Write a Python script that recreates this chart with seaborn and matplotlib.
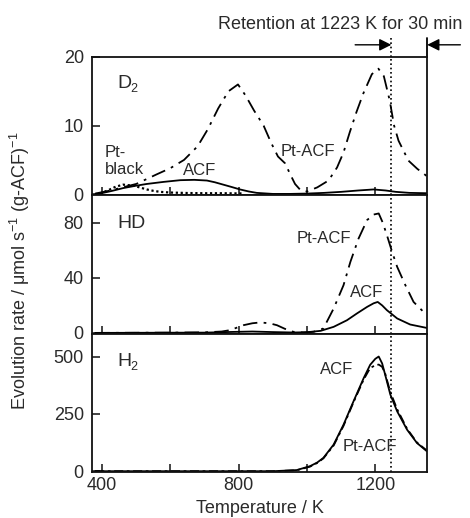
import numpy as np
import pandas as pd
import matplotlib
matplotlib.use("Agg")
import matplotlib.pyplot as plt
import matplotlib.transforms as mtransforms
import seaborn as sns

# ---------------- data ----------------
# D2 panel
d2_ptacf_T = [380, 420, 460, 500, 530, 560, 600, 640, 680, 710, 740, 770, 798, 820, 845, 873, 895,
              915, 936, 950, 965, 981, 1000, 1030, 1063, 1088, 1107, 1125, 1145, 1165, 1190, 1209,
              1225, 1242, 1255, 1268, 1297, 1323, 1352]
d2_ptacf_v = [0.1, 0.5, 1.0, 1.5, 2.2, 2.9, 3.8, 5.0, 7.0, 9.5, 12.5, 15.0, 16.0, 14.4, 12.2, 10.0, 7.5,
              5.5, 4.5, 3.0, 1.5, 0.6, 0.4, 1.0, 2.0, 3.9, 6.1, 9.0, 12.0, 14.7, 17.5, 18.3,
              17.2, 13.7, 10.0, 7.8, 4.9, 3.7, 2.6]
d2_acf_T = [380, 394, 430, 462, 500, 531, 580, 629, 670, 707, 730, 755, 780, 804, 830, 853, 900,
            950, 1000, 1050, 1100, 1150, 1195, 1230, 1260, 1300, 1352]
d2_acf_v = [0.0, 0.1, 0.5, 0.9, 1.25, 1.5, 1.8, 2.05, 2.1, 2.0, 1.75, 1.4, 1.05, 0.7, 0.4, 0.2, 0.05,
            0.05, 0.1, 0.2, 0.35, 0.55, 0.7, 0.55, 0.35, 0.2, 0.15]
d2_ptblack_T = [380, 400, 423, 440, 462, 492, 510, 531, 550, 570, 600, 650, 700, 750, 812]
d2_ptblack_v = [0.0, 0.2, 0.7, 1.1, 1.4, 1.25, 1.0, 0.7, 0.5, 0.35, 0.25, 0.18, 0.15, 0.15, 0.12]

# HD panel
hd_ptacf_T = [380, 600, 700, 750, 775, 814, 840, 863, 890, 912, 935, 960, 990, 1020, 1048, 1078,
              1107, 1127, 1151, 1176, 1195, 1210, 1222, 1234, 1249, 1264, 1288, 1312, 1341, 1352]
hd_ptacf_v = [0.0, 0.2, 0.4, 1.0, 2.0, 5.6, 7.0, 7.6, 7.0, 5.6, 3.0, 0.8, 0.3, 0.8, 3.2, 17.7,
              34.7, 51.6, 68.6, 82.0, 86.0, 86.8, 80.0, 71.0, 59.0, 48.0, 34.7, 22.5, 15.3, 14.5]
hd_acf_T = [380, 700, 780, 840, 900, 960, 1000, 1040, 1078, 1117, 1146, 1176, 1195, 1207, 1220,
            1234, 1264, 1302, 1351]
hd_acf_v = [0.0, 0.2, 0.7, 1.0, 0.6, 0.3, 0.5, 1.5, 4.4, 9.2, 14.1, 18.9, 21.5, 22.5, 20.0,
            16.5, 10.5, 6.1, 3.6]

# H2 panel
h2_T = [380, 900, 970, 1009, 1030, 1048, 1078, 1107, 1136, 1166, 1185, 1200, 1210, 1220, 1229,
        1244, 1264, 1293, 1322, 1351]
h2_acf_v = [0, 0, 5, 22, 38, 58, 116, 203, 304, 406, 464, 490, 500, 470, 420,
            334, 261, 181, 123, 87]
h2_ptacf_v = [0, 0, 4, 20, 36, 56, 112, 198, 300, 400, 450, 462, 465, 455, 425,
              345, 270, 185, 125, 90]

x_ticks = [400, 600, 800, 1000, 1200]
x_ticklabels = ["400", "", "800", "", "1200"]
retention_T = 1247

# ---------------- style ----------------
sns.set_theme(style="ticks")
plt.rcParams["font.family"] = ["Liberation Sans", "DejaVu Sans"]
plt.rcParams["mathtext.fontset"] = "custom"
plt.rcParams["mathtext.rm"] = "Liberation Sans"
plt.rcParams["mathtext.it"] = "Liberation Sans:italic"
TXT = "#2a2a2a"
plt.rcParams["text.color"] = TXT

fig = plt.figure(figsize=(4.70, 5.18), dpi=100)
left, right, bottom, top = 0.196, 0.909, 0.089, 0.890
h = (top - bottom) / 3
axes = [fig.add_axes([left, bottom + (2 - i) * h, right - left, h]) for i in range(3)]

dashdot = (0, (8, 3.5, 1.5, 3.5))
lw = 1.3
LBL = 12


def style(ax, yticks, ylim, show_xlabels):
    ax.set_xlim(371, 1352)
    ax.set_ylim(*ylim)
    ax.set_yticks(yticks)
    ax.set_xticks(x_ticks)
    ax.set_xticklabels(x_ticklabels if show_xlabels else [""] * len(x_ticks))
    ax.tick_params(direction="in", length=6, width=1.1, labelsize=13, colors="#111111",
                   labelcolor=TXT)
    ax.tick_params(axis="y", pad=6)
    ax.tick_params(axis="x", pad=4)
    for s in ax.spines.values():
        s.set_linewidth(1.3)
        s.set_color("#111111")
    ax.set_xlabel("")
    ax.set_ylabel("")
    ax.axvline(retention_T, color="black", ls=(0, (1, 1.6)), lw=1.2)


# D2 panel
ax = axes[0]
sns.lineplot(x=d2_ptacf_T, y=d2_ptacf_v, ax=ax, color="black", lw=lw, linestyle=dashdot)
sns.lineplot(x=d2_acf_T, y=d2_acf_v, ax=ax, color="black", lw=lw)
sns.lineplot(x=d2_ptblack_T, y=d2_ptblack_v, ax=ax, color="black", lw=1.6, linestyle=(0, (1, 1.2)))
style(ax, [0, 10, 20], (-0.15, 20), False)
ax.text(444, 16.2, "D", fontsize=14, va="center", ha="left")
ax.text(483, 15.3, "2", fontsize=9, va="center", ha="left")
ax.text(409, 4.85, "Pt-\nblack", fontsize=LBL, va="center", ha="left", linespacing=1.1)
ax.text(637, 3.4, "ACF", fontsize=LBL, va="center", ha="left")
ax.text(922, 6.3, "Pt-ACF", fontsize=LBL, va="center", ha="left")

# HD panel
ax = axes[1]
sns.lineplot(x=hd_ptacf_T, y=hd_ptacf_v, ax=ax, color="black", lw=lw, linestyle=dashdot)
sns.lineplot(x=hd_acf_T, y=hd_acf_v, ax=ax, color="black", lw=lw)
style(ax, [0, 40, 80], (-0.5, 100), False)
ax.text(444, 79.8, "HD", fontsize=14, va="center", ha="left")
ax.text(969, 68.9, "Pt-ACF", fontsize=LBL, va="center", ha="left")
ax.text(1127, 29, "ACF", fontsize=LBL, va="center", ha="left")

# H2 panel
ax = axes[2]
sns.lineplot(x=h2_T, y=h2_ptacf_v, ax=ax, color="black", lw=lw, linestyle=(0, (5, 2, 1.5, 2)))
sns.lineplot(x=h2_T, y=h2_acf_v, ax=ax, color="black", lw=lw)
style(ax, [0, 250, 500], (-3, 600), True)
ax.text(444, 478, "H", fontsize=14, va="center", ha="left")
ax.text(483, 455, "2", fontsize=9, va="center", ha="left")
ax.text(1039, 442, "ACF", fontsize=LBL, va="center", ha="left")
ax.text(1103, 106, "Pt-ACF", fontsize=LBL, va="center", ha="left")
ax.set_xlabel("Temperature / K", fontsize=13, labelpad=4, color=TXT)

# retention annotation
ax0 = axes[0]
trans = mtransforms.blended_transform_factory(ax0.transData, ax0.transAxes)
ax0.plot([retention_T, retention_T], [1.0, 1.14], transform=trans, color="black",
         ls=(0, (1, 1.6)), lw=1.2, clip_on=False)
ax0.plot([1352, 1352], [1.0, 1.14], transform=trans, color="black", lw=1.3, clip_on=False)
arrow = dict(arrowstyle="-|>", color="black", lw=1.0, mutation_scale=18, shrinkA=0, shrinkB=0)
ax0.annotate("", xy=(retention_T, 1.088), xytext=(1141, 1.088), xycoords=trans,
             textcoords=trans, arrowprops=arrow, annotation_clip=False)
ax0.annotate("", xy=(1352, 1.088), xytext=(1449, 1.088), xycoords=trans,
             textcoords=trans, arrowprops=arrow, annotation_clip=False)
fig.text(0.723, 0.952, "Retention at 1223 K for 30 min", fontsize=13, ha="center", va="center")

fig.text(0.043, 0.477,
         r"Evolution rate / $\mathregular{\mu}$mol s$^{\mathregular{-1}}$ (g-ACF)$^{\mathregular{-1}}$",
         rotation=90, fontsize=13, ha="center", va="center")

fig.savefig("out.png", dpi=100)
